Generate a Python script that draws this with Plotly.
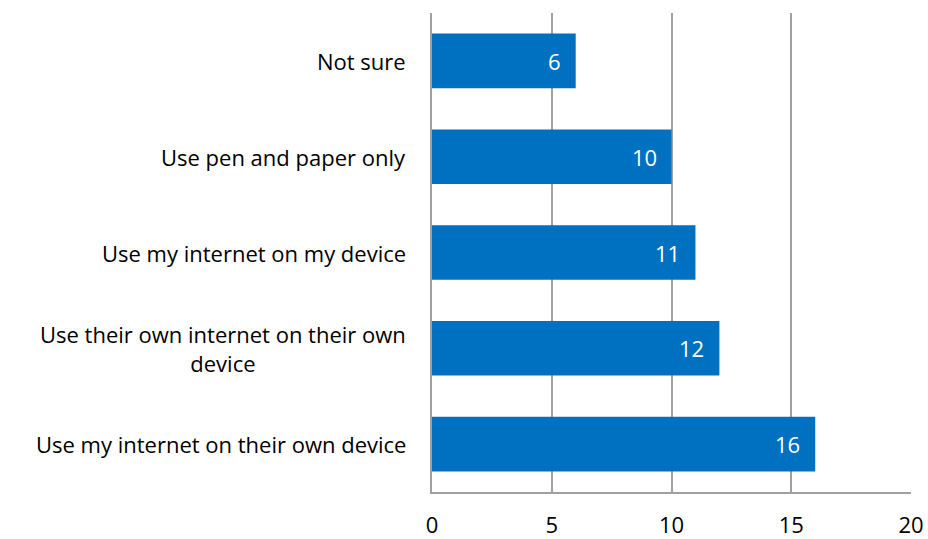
import plotly.graph_objects as go

# Survey responses, listed top to bottom
categories = [
    "Not sure",
    "Use pen and paper only",
    "Use my internet on my device",
    "Use their own internet on their own<br>device",
    "Use my internet on their own device",
]
values = [6, 10, 11, 12, 16]
x_ticks = [0, 5, 10, 15, 20]

BAR_COLOR = "#0070C0"
LINE_COLOR = "#A0A0A0"
FONT = "Open Sans, sans-serif"

fig = go.Figure(
    go.Bar(
        y=list(range(len(categories))),
        x=values,
        orientation="h",
        marker=dict(color=BAR_COLOR, line=dict(width=0)),
        width=0.57,
        hoverinfo="skip",
    )
)

# Value labels inside the bar ends
for i, v in enumerate(values):
    fig.add_annotation(
        x=v, y=i, xref="x", yref="y",
        text=str(v), showarrow=False,
        xanchor="right", xshift=-13,
        font=dict(family=FONT, size=22, color="white"),
    )

# Category labels, centred per line and right-aligned to the axis
for i, c in enumerate(categories):
    fig.add_annotation(
        x=0, y=i, xref="paper", yref="y",
        text=c, showarrow=False,
        xanchor="right", xshift=-24, align="center",
        font=dict(family=FONT, size=22, color="#000000"),
    )

fig.update_layout(
    width=928, height=539,
    margin=dict(l=432, r=17, t=13, b=47, autoexpand=False),
    paper_bgcolor="white", plot_bgcolor="white",
    showlegend=False,
    font=dict(family=FONT, size=22, color="#000000"),
    xaxis=dict(
        range=[0, 20], tickvals=x_ticks,
        showgrid=True, gridcolor=LINE_COLOR, gridwidth=1.5,
        showline=True, linecolor=LINE_COLOR, linewidth=1.5,
        zeroline=False, ticks="", ticklabelstandoff=13,
        tickfont=dict(family=FONT, size=22, color="#000000"),
        automargin=False, fixedrange=True,
    ),
    yaxis=dict(
        range=[len(categories) - 0.5, -0.5],
        showticklabels=False, showgrid=False,
        showline=True, linecolor=LINE_COLOR, linewidth=1.5,
        zeroline=False, ticks="", automargin=False,
        fixedrange=True,
    ),
)

fig.write_html("out.html")
